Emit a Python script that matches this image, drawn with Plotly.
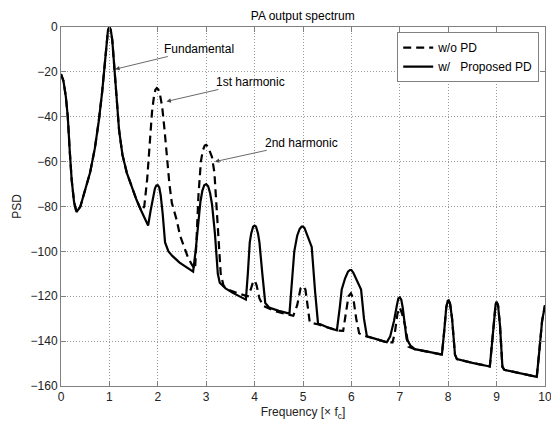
import plotly.graph_objects as go

# ---- data ----
freq_w = [0.00, 0.05, 0.10, 0.14, 0.18, 0.22, 0.27, 0.32, 0.40, 0.50, 0.60, 0.70, 0.78, 0.85, 0.90, 0.94, 0.97, 1.00,
          1.03, 1.06, 1.10, 1.14, 1.20, 1.27, 1.36, 1.46, 1.56, 1.66, 1.75, 1.80, 1.85, 1.90, 1.94, 1.97, 2.00,
          2.03, 2.06, 2.10, 2.15, 2.22, 2.30, 2.45, 2.60, 2.73, 2.78, 2.83, 2.88, 2.92, 2.96, 3.00,
          3.04, 3.08, 3.12, 3.18, 3.24, 3.28, 3.40, 3.55, 3.70, 3.82, 3.86, 3.90, 3.93, 3.97, 4.00,
          4.03, 4.07, 4.10, 4.16, 4.22, 4.30, 4.50, 4.72, 4.76, 4.82, 4.88, 4.93, 4.97, 5.00,
          5.03, 5.07, 5.12, 5.18, 5.25, 5.31, 5.50, 5.70, 5.76, 5.80, 5.87, 5.93, 5.97, 6.00,
          6.04, 6.09, 6.14, 6.20, 6.26, 6.32, 6.50, 6.73, 6.80, 6.88, 6.94, 6.97, 7.00,
          7.03, 7.06, 7.10, 7.14, 7.22, 7.31, 7.60, 7.87, 7.92, 7.96, 7.99, 8.01,
          8.04, 8.08, 8.14, 8.18, 8.50, 8.86, 8.91, 8.95, 8.98, 9.00,
          9.03, 9.07, 9.12, 9.16, 9.50, 9.83, 9.88, 9.94, 10.00]
psd_w = [-21, -24, -31, -40, -55, -68, -78, -82.5, -80, -73, -65, -54, -42, -29, -17, -7, -1.5, 0,
         -1.5, -6, -17, -30, -46, -57, -65, -71, -77, -82, -86, -88.5, -82, -76, -72, -70.6, -70.5,
         -71.5, -75, -83, -96, -100, -102, -105, -107, -109, -100, -88, -78, -73, -70.5, -70,
         -71, -74, -79, -92, -110, -114, -116.5, -118.5, -120, -121.5, -110, -96, -92, -89, -88.5,
         -89, -92, -96, -110, -123, -125, -126.5, -127.7, -118, -100, -93, -90, -89, -89,
         -89.5, -92, -95, -98, -118, -132, -133.8, -135.2, -125, -117, -112, -109, -108.3, -108.3,
         -109.5, -112, -114.5, -117, -130, -137.8, -139, -140.5, -138, -131, -124, -121, -120.5,
         -121.5, -125, -133, -139, -142, -143.6, -144.8, -146, -135, -125, -122, -121.8,
         -123.5, -130, -146, -148, -149.7, -151.3, -140, -128, -123.5, -122.5,
         -124, -133, -151.5, -152.8, -154.4, -155.9, -145, -131, -124]

freq_wo = [0.00, 0.05, 0.10, 0.14, 0.18, 0.22, 0.27, 0.32, 0.40, 0.50, 0.60, 0.70, 0.78, 0.85, 0.90, 0.94, 0.97, 1.00,
           1.03, 1.06, 1.10, 1.14, 1.20, 1.27, 1.36, 1.46, 1.56, 1.66, 1.72, 1.78, 1.83, 1.88, 1.92, 1.95, 1.98, 2.01,
           2.04, 2.09, 2.14, 2.18, 2.24, 2.29, 2.39, 2.46, 2.53, 2.62, 2.70, 2.77, 2.80, 2.84, 2.89, 2.93, 2.97, 3.00,
           3.04, 3.08, 3.12, 3.17, 3.22, 3.26, 3.30, 3.36, 3.50, 3.70, 3.86, 3.92, 3.97, 4.00,
           4.04, 4.10, 4.18, 4.40, 4.60, 4.80, 4.88, 4.95, 5.00,
           5.05, 5.10, 5.14, 5.30, 5.50, 5.72, 5.83, 5.88, 5.94, 5.99,
           6.04, 6.10, 6.16, 6.30, 6.50, 6.73, 6.85, 6.90, 6.95, 7.00,
           7.05, 7.12, 7.18, 7.31, 7.60, 7.87, 7.92, 7.96, 7.99, 8.01,
           8.04, 8.08, 8.14, 8.18, 8.50, 8.86, 8.91, 8.95, 8.98, 9.00,
           9.03, 9.07, 9.12, 9.16, 9.50, 9.83, 9.88, 9.94, 10.00]
psd_wo = [-21, -24, -31, -40, -55, -68, -78, -82.5, -80, -73, -65, -54, -42, -29, -17, -7, -1.5, 0,
          -1.5, -6, -17, -30, -46, -57, -65, -71, -77, -82, -80, -68, -52, -38, -31, -28, -27.2, -27.8,
          -29.5, -35.5, -46, -56, -70, -78.4, -86, -93, -97.6, -102.5, -105.8, -108, -95, -75, -60, -55, -52.8, -52.5,
          -53.5, -55.5, -58, -65, -84, -100, -110, -115.4, -117.5, -119, -120, -117, -113.5, -113,
          -115, -121, -124.3, -126.5, -127.5, -128.7, -124, -116.5, -115.5,
          -117, -125, -131.7, -132.5, -133.8, -135.3, -135.4, -128, -120, -118.7,
          -121, -130, -136.5, -137.8, -139, -140.5, -140.6, -136, -128, -125,
          -128, -134, -142.5, -143.6, -144.8, -146, -135, -125, -122, -121.8,
          -123.5, -130, -146, -148, -149.7, -151.3, -140, -128, -123.5, -122.5,
          -124, -133, -151.5, -152.8, -154.4, -155.9, -145, -131, -124]

x_ticks = [0, 1, 2, 3, 4, 5, 6, 7, 8, 9, 10]
y_ticks = [0, -20, -40, -60, -80, -100, -120, -140, -160]

annot_text = ["Fundamental", "1st harmonic", "2nd harmonic"]
annot_head = [(1.12, -18.8), (2.18, -33.2), (3.18, -60.0)]
annot_tail = [(2.85, -9.8), (3.92, -24.5), (4.96, -51.6)]

FONT = "Liberation Sans, Arial, Helvetica, sans-serif"

fig = go.Figure()
fig.add_trace(go.Scatter(x=freq_wo, y=psd_wo, mode="lines", name="w/o PD",
                         line=dict(color="black", width=2.2, dash="8px,5px")))
fig.add_trace(go.Scatter(x=freq_w, y=psd_w, mode="lines", name="w/\u00a0\u00a0\u00a0Proposed PD",
                         line=dict(color="black", width=2.2)))

for t, (hx, hy), (tx, ty) in zip(annot_text, annot_head, annot_tail):
    fig.add_annotation(x=hx, y=hy, ax=tx, ay=ty, axref="x", ayref="y", xref="x", yref="y",
                       text=t, showarrow=True, arrowhead=2, arrowsize=1.1, arrowwidth=0.8,
                       arrowcolor="#444444", font=dict(size=12, color="black", family=FONT),
                       borderpad=0)

axis_common = dict(showline=True, linecolor="#808080", linewidth=1, mirror="allticks",
                   ticks="inside", ticklen=5, tickcolor="#808080", automargin=False,
                   showgrid=True, gridcolor="#9a9a9a", griddash="1px,2px", gridwidth=1,
                   zeroline=False, tickfont=dict(size=12, color="#222222", family=FONT))

fig.update_xaxes(range=[0, 10], tickvals=x_ticks, ticktext=[str(v) for v in x_ticks],
                 title=dict(text="Frequency [\u00d7 f<sub>c</sub>]", font=dict(size=12, family=FONT, color="#222222"),
                            standoff=4),
                 **axis_common)
fig.update_yaxes(range=[-160, 0], tickvals=y_ticks, ticktext=["\u2212" + str(-v) if v else "0" for v in y_ticks],
                 title=dict(text="PSD", font=dict(size=12, family=FONT, color="#222222"), standoff=6),
                 **axis_common)

# the page places the figure 8 px in from the window's top-left corner
fig.update_layout(
    width=551, height=413,
    margin=dict(l=53, r=14, t=19, b=35, autoexpand=False),
    paper_bgcolor="white", plot_bgcolor="white",
    title=dict(text="PA output spectrum", x=0.535, xanchor="center", y=0.982, yanchor="middle",
               font=dict(size=12, family=FONT, color="black"), automargin=False),
    showlegend=True,
    legend=dict(x=0.988, xanchor="right", y=0.986, yanchor="top", bgcolor="white",
                bordercolor="#808080", borderwidth=1, font=dict(size=12, family=FONT, color="black"),
                tracegroupgap=0, itemwidth=30),
    font=dict(family=FONT),
)

fig.write_html("out.html")
